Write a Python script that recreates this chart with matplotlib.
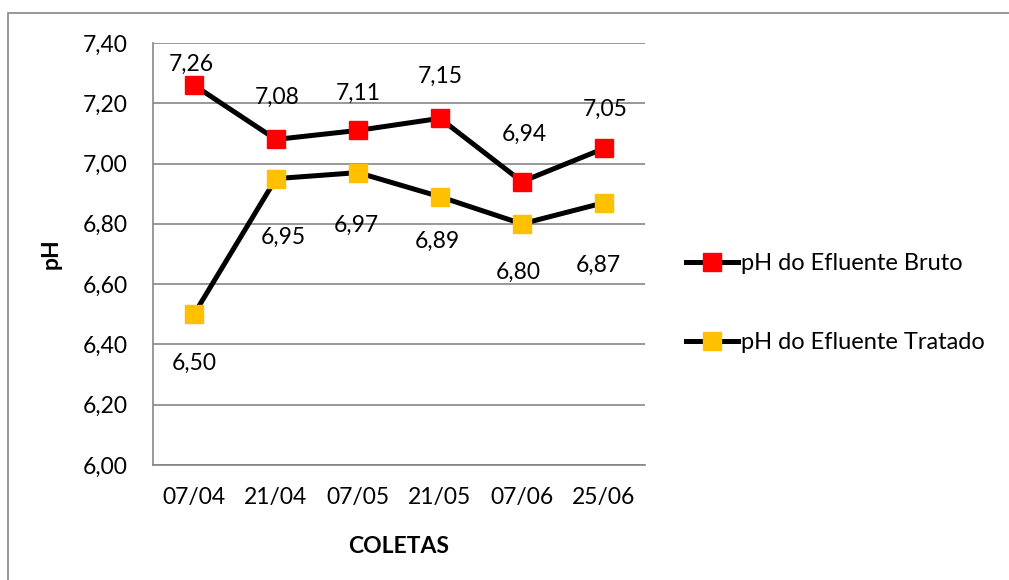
import matplotlib.pyplot as plt
import matplotlib.patches as patches

coletas = ['07/04', '21/04', '07/05', '21/05', '07/06', '25/06']
ph_bruto = [7.26, 7.08, 7.11, 7.15, 6.94, 7.05]
ph_tratado = [6.50, 6.95, 6.97, 6.89, 6.80, 6.87]
y_ticks = [6.0, 6.2, 6.4, 6.6, 6.8, 7.0, 7.2, 7.4]

# manual label offsets (points), like in the original sheet
dx_bruto = [-2, 1, 0, 0, 2, 1]
dy_bruto = [15, 30, 27, 30, 34, 28]
dx_tratado = [0, 5, -1, -2, -3, -4]
dy_tratado = [-35, -42, -38, -32, -35, -45]

plt.rcParams['font.family'] = ['Lato', 'DejaVu Sans']
grid_color = '#868686'
fs = 16.5

fig = plt.figure(figsize=(10.09, 5.80), dpi=100)
ax = fig.add_axes([0.1516, 0.1983, 0.4876, 0.7276])

# outer chart border (only top/left inside the picture)
fig.patches.append(patches.Rectangle(
    (8 / 1009, -0.1), 1.2, 1 - 13 / 580 + 0.1,
    transform=fig.transFigure, fill=False, edgecolor=grid_color, lw=1.2))

x = range(len(coletas))
ax.plot(x, ph_bruto, color='black', lw=3.6, marker='s', ms=13.5,
        mfc='#ff0000', mec='#ff0000', label='pH do Efluente Bruto', zorder=3)
ax.plot(x, ph_tratado, color='black', lw=3.6, marker='s', ms=13.5,
        mfc='#ffc000', mec='#ffc000', label='pH do Efluente Tratado', zorder=3)

for i in x:
    ax.annotate(f'{ph_bruto[i]:.2f}'.replace('.', ','), (i, ph_bruto[i]),
                xytext=(dx_bruto[i], dy_bruto[i]), textcoords='offset points',
                ha='center', va='center', fontsize=fs)
    ax.annotate(f'{ph_tratado[i]:.2f}'.replace('.', ','), (i, ph_tratado[i]),
                xytext=(dx_tratado[i], dy_tratado[i]), textcoords='offset points',
                ha='center', va='center', fontsize=fs)

ax.set_xlim(-0.5, len(coletas) - 0.5)
ax.set_ylim(6.0, 7.4)
ax.set_yticks(y_ticks)
ax.set_yticklabels([f'{v:.2f}'.replace('.', ',') for v in y_ticks])
ax.set_xticks(list(x))
ax.set_xticklabels(coletas)
ax.tick_params(axis='both', length=0, labelsize=fs)
ax.tick_params(axis='y', pad=18)
ax.tick_params(axis='x', pad=16)
ax.yaxis.grid(True, color=grid_color, lw=1.2)
ax.set_axisbelow(True)
for s in ['top', 'right']:
    ax.spines[s].set_visible(False)
for s in ['left', 'bottom']:
    ax.spines[s].set_color(grid_color)
    ax.spines[s].set_linewidth(1.2)

ax.set_xlabel('COLETAS', fontsize=fs, fontweight='bold', labelpad=20)
ax.set_ylabel('pH', fontsize=fs, fontweight='bold')
ax.yaxis.set_label_coords(-0.185, 0.5)

fig.legend(loc='upper left', bbox_to_anchor=(0.668, 0.584), frameon=False,
           fontsize=17, borderpad=0, handlelength=2.2, handletextpad=0.15,
           labelspacing=2.45)

plt.savefig('out.png', dpi=100)
